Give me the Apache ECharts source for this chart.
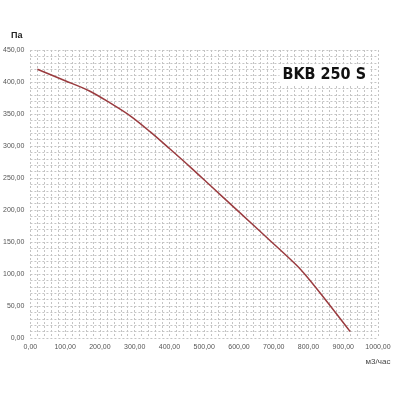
<!DOCTYPE html>
<html>
<head>
<meta charset="utf-8">
<script src="https://cdn.jsdelivr.net/npm/echarts@6/dist/echarts.min.js"></script>
<style>
  html, body { margin: 0; padding: 0; background: #fff; }
  #main { width: 400px; height: 400px; }
</style>
</head>
<body>
<div id="main"></div>
<script>
var flow = [20, 100, 170, 230, 290, 345, 400, 460, 520, 600, 690, 765, 795, 850, 920];
var pressure = [420, 402, 386, 367, 346, 322, 296, 267, 237, 197, 152, 114, 96, 59, 10];

var myChart = echarts.init(document.getElementById('main'));

function fmt(v) {
    return v.toFixed(2).replace('.', ',');
}

var gridLine = { show: true, lineStyle: { color: '#c4c4c4', type: [2, 2], width: 1 } };

option = {
    backgroundColor: '#fff',
    animation: false,
    title: {
        text: 'BKB 250 S',
        right: 31,
        top: 65,
        backgroundColor: '#fff',
        padding: [2, 3],
        textStyle: {
            fontFamily: 'DejaVu Sans Condensed, sans-serif',
            fontSize: 16,
            fontWeight: 'bold',
            color: '#111'
        }
    },
    grid: { left: 30, right: 22, top: 50, bottom: 62 },
    xAxis: {
        type: 'value',
        min: 0,
        max: 1000,
        interval: 100,
        name: 'м3/час',
        nameLocation: 'end',
        nameGap: 0,
        nameTextStyle: { fontSize: 8, color: '#444', align: 'center', verticalAlign: 'top', padding: [20, 0, 0, 0] },
        axisLine: { show: false },
        axisTick: { show: false },
        axisLabel: { fontSize: 7, color: '#555', margin: 6, formatter: fmt },
        splitLine: gridLine,
        minorTick: { show: false, splitNumber: 5 },
        minorSplitLine: gridLine
    },
    yAxis: {
        type: 'value',
        min: 0,
        max: 450,
        interval: 50,
        name: 'Па',
        nameLocation: 'end',
        nameGap: 10,
        nameTextStyle: { fontSize: 9, fontWeight: 'bold', color: '#222', align: 'right', padding: [0, 8, 0, 0] },
        axisLine: { show: false },
        axisTick: { show: false },
        axisLabel: { fontSize: 7, color: '#555', margin: 6, formatter: fmt },
        splitLine: gridLine,
        minorTick: { show: false, splitNumber: 5 },
        minorSplitLine: gridLine
    },
    series: [
        {
            type: 'line',
            smooth: 0.3,
            symbol: 'none',
            lineStyle: { color: '#9a3b3f', width: 1.5 },
            data: flow.map(function (x, i) { return [x, pressure[i]]; })
        }
    ]
};
myChart.setOption(option);
</script>
</body>
</html>
